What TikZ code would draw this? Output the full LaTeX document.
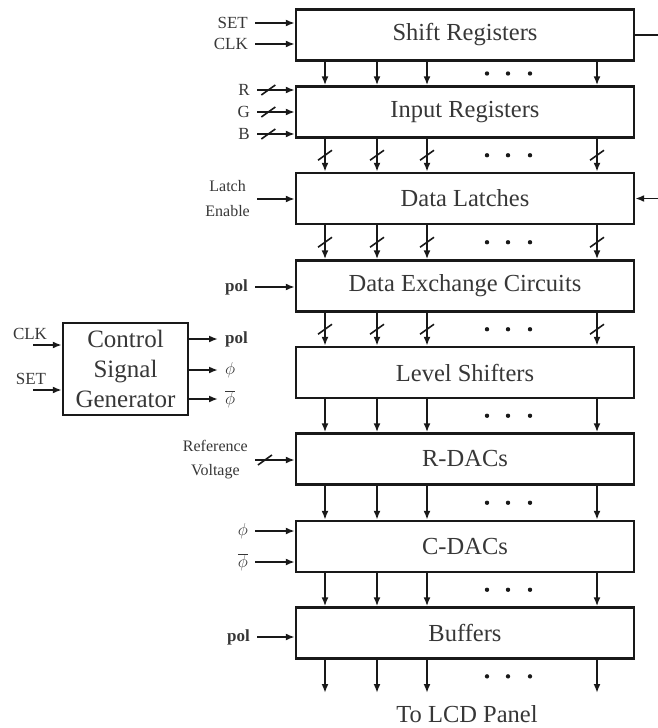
\documentclass[tikz,border=0pt]{standalone}
\usepackage{fontspec}
\setmainfont{Liberation Serif}
\usetikzlibrary{arrows.meta,decorations.markings}
\definecolor{inkDark}{RGB}{25,25,25}
\definecolor{textGray}{RGB}{55,55,55}
\newcommand{\SigSize}{\fontsize{17}{24}\selectfont}
\newcommand{\BoxSize}{\fontsize{24.5}{30}\selectfont}

\begin{document}
\begin{tikzpicture}[x=1pt,y=-1pt,
  blockbox/.style={draw=inkDark,line width=2.4pt,minimum width=338pt,minimum height=51pt,inner sep=0pt,font=\BoxSize,text=textGray},
  arr/.style={-{Latex[length=9pt,width=7pt]},line width=1.9pt,draw=inkDark},
  bus/.style={postaction={decorate,decoration={markings,mark=at position #1 with {\pgftransformresetnontranslations\draw[-,line width=1.6pt,draw=inkDark] (-7pt,-5pt) -- (7pt,5pt);}}}},
  bus/.default=0.5,
  sig/.style={font=\SigSize,text=textGray,inner xsep=7pt,inner ysep=0pt,align=center},
  polsig/.style={sig,font=\SigSize\bfseries}]
\useasboundingbox (0,0) rectangle (658,728);

\node[blockbox] (shift) at (465,35) {Shift Registers};
\node[blockbox] (input) at (465,112) {Input Registers};
\node[blockbox] (latch) at (465,198.5) {Data Latches};
\node[blockbox] (exch) at (465,286) {Data Exchange Circuits};
\node[blockbox] (level) at (465,372.5) {Level Shifters};
\node[blockbox] (rdac) at (465,459) {R-DACs};
\node[blockbox] (cdac) at (465,546.5) {C-DACs};
\node[blockbox] (buf) at (465,633) {Buffers};

\coordinate (c1) at (325,0);
\coordinate (c2) at (377,0);
\coordinate (c3) at (427,0);
\coordinate (c4) at (597,0);
\coordinate (outend) at (0,693);
\coordinate (edge) at (658,0);

\foreach \a/\b in {shift/input,level/rdac,rdac/cdac,cdac/buf,buf/outend}{
  \foreach \c in {c1,c2,c3,c4}
    \draw[arr] (\c |- \a.south) -- (\c |- \b.north);
  \path (\a.south) -- (\b.north) coordinate[pos=0.5] (m);
  \foreach \d in {487,508,530}
    \fill[inkDark] (\d,0 |- m) circle (2.2pt);
}
\foreach \a/\b in {input/latch,latch/exch,exch/level}{
  \foreach \c in {c1,c2,c3,c4}
    \draw[arr,bus] (\c |- \a.south) -- (\c |- \b.north);
  \path (\a.south) -- (\b.north) coordinate[pos=0.5] (m);
  \foreach \d in {487,508,530}
    \fill[inkDark] (\d,0 |- m) circle (2.2pt);
}
\node[font=\BoxSize,text=textGray] (lcd) at (467,714) {To LCD Panel};

\node[sig,anchor=east] (setsr) at (255,23) {SET};
\node[sig,anchor=east] (clksr) at (255,44) {CLK};
\draw[arr] (setsr.east) -- (setsr.east -| shift.west);
\draw[arr] (clksr.east) -- (clksr.east -| shift.west);
\draw[line width=1.9pt,draw=inkDark] (shift.east) -- (shift.east -| edge);

\node[sig,anchor=east] (rin) at (257,90) {R};
\node[sig,anchor=east] (gin) at (257,112) {G};
\node[sig,anchor=east] (bin) at (257,134) {B};
\foreach \s in {rin,gin,bin}
  \draw[arr,bus=0.3] (\s.east) -- (\s.east -| input.west);

\node[sig,anchor=east,font=\fontsize{16}{25}\selectfont] (le) at (257,199) {Latch\\Enable};
\draw[arr] (le.east) -- (le.east -| latch.west);
\draw[arr] (latch.east -| edge) -- (latch.east);

\node[polsig,anchor=east] (polex) at (255,287) {pol};
\draw[arr] (polex.east) -- (polex.east -| exch.west);

\node[draw=inkDark,line width=2.4pt,minimum width=125pt,minimum height=92pt,inner sep=0pt,align=center,font=\fontsize{25}{30}\selectfont,text=textGray] (csg) at (125.5,369) {Control\\Signal\\Generator};
\coordinate (clkin) at (33,345);
\coordinate (setin) at (33,390);
\draw[arr] (clkin) -- (clkin -| csg.west);
\draw[arr] (setin) -- (setin -| csg.west);
\node[sig,anchor=base] (clkcsg) at (30,339) {CLK};
\node[sig,anchor=base] (setcsg) at (31,384) {SET};
\node[polsig,anchor=west] (polout) at (218,339) {pol};
\node[sig,anchor=west] (phiout) at (218,370) {$\phi$};
\node[sig,anchor=west] (phibout) at (218,399) {$\overline{\phi}$};
\foreach \s in {polout,phiout,phibout}
  \draw[arr] (csg.east |- \s.west) -- (\s.west);

\node[sig,anchor=east,font=\fontsize{16}{24}\selectfont] (refv) at (255,460) {Reference\\Voltage};
\draw[arr,bus=0.25] (refv.east) -- (refv.east -| rdac.west);

\node[sig,anchor=east] (phic) at (255,531) {$\phi$};
\node[sig,anchor=east] (phibc) at (255,562) {$\overline{\phi}$};
\draw[arr] (phic.east) -- (phic.east -| cdac.west);
\draw[arr] (phibc.east) -- (phibc.east -| cdac.west);

\node[polsig,anchor=east] (polbuf) at (257,637) {pol};
\draw[arr] (polbuf.east) -- (polbuf.east -| buf.west);
\end{tikzpicture}
\end{document}
